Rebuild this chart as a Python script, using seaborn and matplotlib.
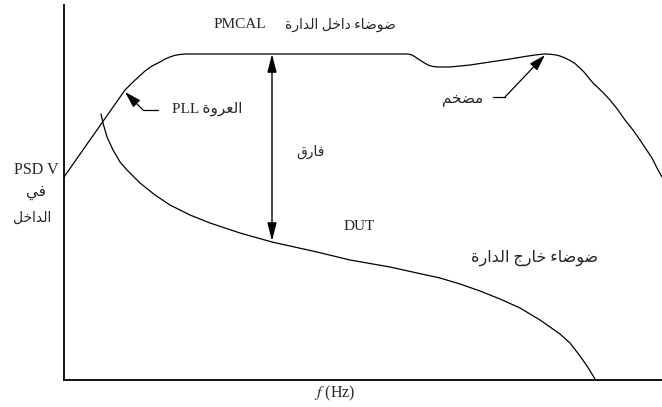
import matplotlib
matplotlib.use("Agg")
import matplotlib.pyplot as plt
import seaborn as sns
import pandas as pd

# ---- curve samples (frequency axis units, PSD axis units) ----
in_loop_f = [0, 61, 65, 69, 75, 81, 88, 96, 101, 106, 111, 116, 121, 126,
             344, 348, 352, 358, 364, 369, 374, 386, 406, 426, 446, 461, 471,
             478, 481, 486, 491, 496, 501, 506, 511, 520, 529, 538, 546, 554,
             561, 569, 576, 582, 588, 593, 598]
in_loop_psd = [203, 290, 294, 298, 303.5, 309, 314, 318, 321, 323, 324.7, 325.5, 326, 326,
               326, 325, 322.5, 318.5, 315, 313.5, 313, 313, 315, 318, 321, 323.5, 325,
               325.8, 326, 325.8, 325.2, 324, 322, 319.5, 316.5, 308, 297, 288.5, 280, 270,
               260, 250, 240, 231, 222, 212, 203]

out_loop_f = [37, 39, 43, 49, 56, 63, 76, 91, 106, 126, 146, 176, 208, 253,
              286, 326, 353, 376, 396, 416, 426, 436, 446, 456, 466, 476,
              486, 496, 506, 516, 523, 528, 531]
out_loop_psd = [266, 257, 243, 230, 218, 210, 197, 185, 175, 165, 157, 147, 138, 128,
                120, 113, 107, 102, 96, 89, 85, 81, 76.5, 72, 66, 60,
                53, 46, 37, 24, 14, 6, 1]

# ---- labels ----
label_pmcal = "PMCAL"
label_in_loop = "ضوضاء داخل الدارة"
label_out_loop = "ضوضاء خارج الدارة"
label_dut = "DUT"
label_gap = "فارق"
label_pll = "العروة PLL"
label_amp = "مضخم"
label_y = ["PSD V", "في", "الداخل"]
label_x = r"$f$ (Hz)"

# ---- minimal Arabic shaping (contextual forms + right-to-left order) ----
FORMS = {  # isolated, final, initial, medial
    'ا': ('\uFE8D', '\uFE8E', None, None),
    'د': ('\uFEA9', '\uFEAA', None, None),
    'ر': ('\uFEAD', '\uFEAE', None, None),
    'و': ('\uFEED', '\uFEEE', None, None),
    'ة': ('\uFE93', '\uFE94', None, None),
    'ء': ('\uFE80', None, None, None),
    'ض': ('\uFEBD', '\uFEBE', '\uFEBF', '\uFEC0'),
    'خ': ('\uFEA5', '\uFEA6', '\uFEA7', '\uFEA8'),
    'ل': ('\uFEDD', '\uFEDE', '\uFEDF', '\uFEE0'),
    'ج': ('\uFE9D', '\uFE9E', '\uFE9F', '\uFEA0'),
    'ف': ('\uFED1', '\uFED2', '\uFED3', '\uFED4'),
    'ق': ('\uFED5', '\uFED6', '\uFED7', '\uFED8'),
    'ي': ('\uFEF1', '\uFEF2', '\uFEF3', '\uFEF4'),
    'ع': ('\uFEC9', '\uFECA', '\uFECB', '\uFECC'),
    'م': ('\uFEE1', '\uFEE2', '\uFEE3', '\uFEE4'),
}


def shape_word(word):
    out = []
    for i, ch in enumerate(word):
        if ch not in FORMS:
            out.append(ch)
            continue
        prev = word[i - 1] if i > 0 else None
        nxt = word[i + 1] if i + 1 < len(word) else None
        join_prev = (prev in FORMS and FORMS[prev][2] is not None
                     and FORMS[ch][1] is not None)
        join_next = (FORMS[ch][2] is not None and nxt in FORMS
                     and FORMS[nxt][1] is not None)
        iso, fin, ini, med = FORMS[ch]
        if join_prev and join_next:
            out.append(med)
        elif join_prev:
            out.append(fin)
        elif join_next:
            out.append(ini)
        else:
            out.append(iso)
    return "".join(out)


def rtl(text):
    words = text.split(" ")
    if not any(c in FORMS for c in text):
        return text
    shaped = [shape_word(w)[::-1] if any(c in FORMS for c in w) else w
              for w in words]
    return " ".join(shaped[::-1])


# ---- styling ----
sns.set_theme(style="white")
plt.rcParams["font.family"] = ["Liberation Serif", "DejaVu Sans"]
plt.rcParams["mathtext.fontset"] = "stix"

fig = plt.figure(figsize=(6.62, 4.07), dpi=100)
ax = fig.add_axes([64 / 662, 27 / 407, 598 / 662, 375 / 407])

df_in = pd.DataFrame({"f": in_loop_f, "psd": in_loop_psd})
df_out = pd.DataFrame({"f": out_loop_f, "psd": out_loop_psd})
sns.lineplot(data=df_in, x="f", y="psd", sort=False, estimator=None,
             color="black", linewidth=0.9, ax=ax)
sns.lineplot(data=df_out, x="f", y="psd", sort=False, estimator=None,
             color="black", linewidth=0.9, ax=ax)

ax.set_xlim(0, 598)
ax.set_ylim(0, 375)
ax.set_xticks([])
ax.set_yticks([])
ax.set_xlabel("")
ax.set_ylabel("")
for side in ["top", "right"]:
    ax.spines[side].set_visible(False)
for side in ["left", "bottom"]:
    ax.spines[side].set_color("black")
    ax.spines[side].set_linewidth(1.3)

# gap arrow between the two curves
gap_f = 208
gap_top = in_loop_psd[in_loop_f.index(126)]
gap_bottom = 139
ax.annotate("", xy=(gap_f, gap_bottom), xytext=(gap_f, gap_top),
            arrowprops=dict(arrowstyle="<|-|>,head_length=1.1,head_width=0.28",
                            color="black", lw=1.0, shrinkA=0, shrinkB=0,
                            mutation_scale=10))

# PLL loop pointer
ax.plot([94, 79], [270, 270], color="black", lw=0.9)
ax.annotate("", xy=(61, 288), xytext=(79, 270),
            arrowprops=dict(arrowstyle="-|>,head_length=1.0,head_width=0.3",
                            color="black", lw=0.9, shrinkA=0, shrinkB=0,
                            mutation_scale=10))

# amplifier pointer
ax.plot([429, 441], [283, 283], color="black", lw=0.9)
ax.annotate("", xy=(481, 325), xytext=(441, 283),
            arrowprops=dict(arrowstyle="-|>,head_length=1.0,head_width=0.3",
                            color="black", lw=0.9, shrinkA=0, shrinkB=0,
                            mutation_scale=10))

fs = 11
ax.text(176, 355, label_pmcal, ha="center", va="center", fontsize=fs)
ax.text(276, 355, rtl(label_in_loop), ha="center", va="center", fontsize=10)
ax.text(246, 228, rtl(label_gap), ha="center", va="center", fontsize=10)
ax.text(295, 153, label_dut, ha="center", va="center", fontsize=fs)
ax.text(471, 122, rtl(label_out_loop), ha="center", va="center", fontsize=11.5)
ax.text(108, 271, rtl(label_pll), ha="left", va="center", fontsize=fs)
ax.text(419, 281, rtl(label_amp), ha="right", va="center", fontsize=11)

ax.text(-28, 210, label_y[0], ha="center", va="center", fontsize=11.5, clip_on=False)
ax.text(-28, 187, rtl(label_y[1]), ha="center", va="center", fontsize=11, clip_on=False)
ax.text(-32, 162, rtl(label_y[2]), ha="center", va="center", fontsize=10, clip_on=False)

ax.text(271, -13, label_x, ha="center", va="center", fontsize=11.5, clip_on=False)

fig.savefig("out.png", dpi=100, facecolor="white")
